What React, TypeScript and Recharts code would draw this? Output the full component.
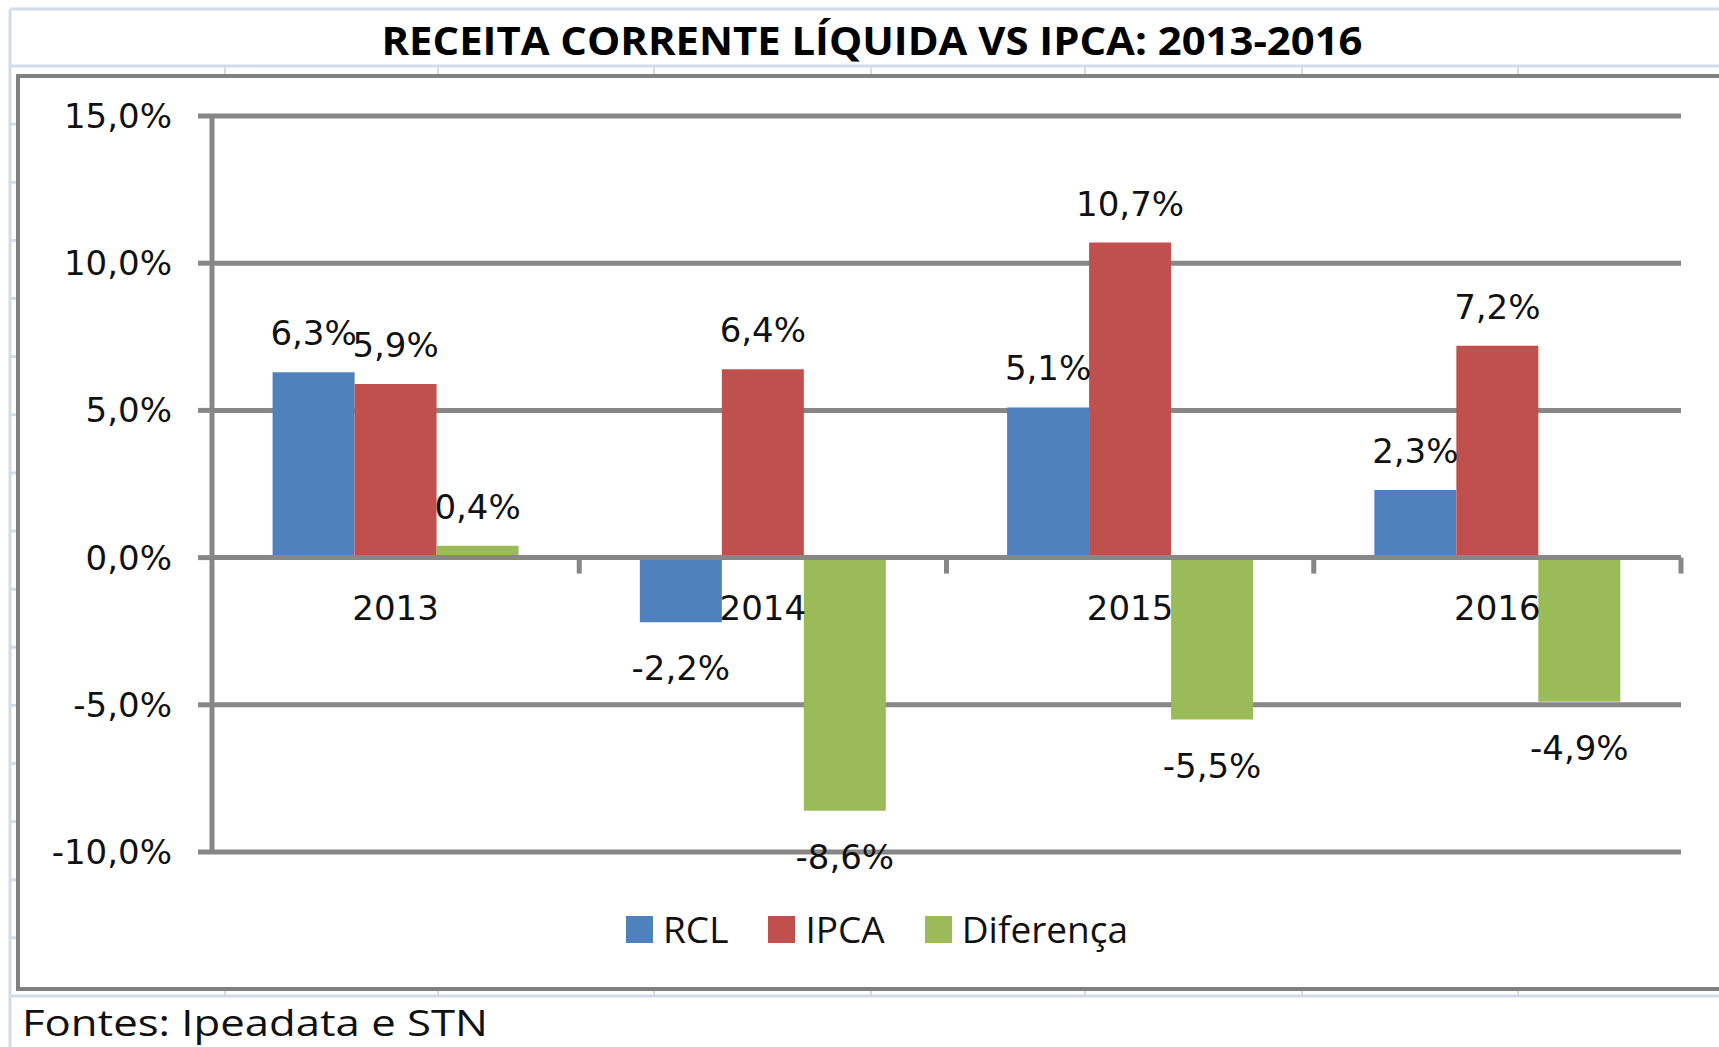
import {
  BarChart,
  Bar,
  XAxis,
  YAxis,
  CartesianGrid,
  Legend,
  LabelList,
  ReferenceLine,
} from "recharts";

const years = ["2013", "2014", "2015", "2016"];
const seriesNames = ["RCL", "IPCA", "Diferença"];
const rcl = [6.3, -2.2, 5.1, 2.3];
const ipca = [5.9, 6.4, 10.7, 7.2];
const diferenca = [0.4, -8.6, -5.5, -4.9];
const yTicks = [-10, -5, 0, 5, 10, 15];

const data = years.map((year, i) => ({
  year,
  RCL: rcl[i],
  IPCA: ipca[i],
  Diferença: diferenca[i],
}));

const W = 1719;
const H = 1047;
const PLOT_TOP = 116;
const PLOT_BOTTOM = 852;
const PLOT_LEFT = 212;
const PLOT_RIGHT = 1681;
const Y_MIN = -10;
const Y_MAX = 15;
const zeroY = PLOT_TOP + (Y_MAX / (Y_MAX - Y_MIN)) * (PLOT_BOTTOM - PLOT_TOP);
const bandW = (PLOT_RIGHT - PLOT_LEFT) / years.length;

const GRID = "#878787";
const SHEET = "#D3DBE9";
const TEXT = "#111";
const NUM_FONT = "'DejaVu Sans', Verdana, sans-serif";
const SANS = "'Open Sans', sans-serif";

const fmt = (v: number) => `${v.toFixed(1).replace(".", ",")}%`;

const XTick = ({ x, payload }: any) => (
  <g>
    <text
      x={x}
      y={zeroY + 62}
      textAnchor="middle"
      fontFamily={NUM_FONT}
      fontSize={34}
      fill={TEXT}
    >
      {payload.value}
    </text>
    <line
      x1={x + bandW / 2}
      y1={zeroY}
      x2={x + bandW / 2}
      y2={zeroY + 16}
      stroke={GRID}
      strokeWidth={5}
    />
  </g>
);

const renderLabel = (props: any) => {
  const vb = props.viewBox || {};
  const x = Number(props.x ?? vb.x);
  const y = Number(props.y ?? vb.y);
  const w = Number(props.width ?? vb.width);
  const h = Number(props.height ?? vb.height);
  const value = Number(props.value);
  const top = Math.min(y, y + h);
  const bottom = Math.max(y, y + h);
  const ty = value >= 0 ? top - 27 : bottom + 58;
  return (
    <text
      x={x + w / 2}
      y={ty}
      textAnchor="middle"
      fontFamily={NUM_FONT}
      fontSize={34}
      fill={TEXT}
    >
      {fmt(value)}
    </text>
  );
};

const renderLegend = ({ payload }: any) => {
  const items = [...(payload || [])].sort(
    (a: any, b: any) => seriesNames.indexOf(a.value) - seriesNames.indexOf(b.value)
  );
  return (
    <div
      style={{
        display: "flex",
        alignItems: "center",
        fontFamily: SANS,
        fontSize: 37,
        color: TEXT,
        lineHeight: "32px",
        whiteSpace: "nowrap",
      }}
    >
      {items.map((p: any) => (
        <div
          key={p.value}
          style={{ display: "flex", alignItems: "center", marginRight: 40 }}
        >
          <span
            style={{
              width: 27,
              height: 27,
              background: p.color,
              marginRight: 10,
              display: "inline-block",
            }}
          />
          <span>{p.value}</span>
        </div>
      ))}
    </div>
  );
};

const rows = Array.from({ length: 17 }, (_, r) => 66 + r * 58.125);
const cols = [225, 438, 654, 871, 1085, 1302, 1518];

export default function App() {
  return (
    <div
      style={{
        position: "absolute",
        left: 0,
        top: 0,
        width: W,
        height: H,
        background: "#fff",
        overflow: "hidden",
      }}
    >
      <svg
        width={W}
        height={H}
        style={{ position: "absolute", left: 0, top: 0 }}
      >
        <rect width={W} height={H} fill="#fff" />
        <line x1={10} y1={9} x2={W} y2={9} stroke={SHEET} strokeWidth={3} />
        <line x1={10} y1={9} x2={10} y2={H} stroke={SHEET} strokeWidth={3} />
        {rows.map((y, i) => (
          <line
            key={i}
            x1={10}
            y1={y}
            x2={i === 0 || i === rows.length - 1 ? W : 20}
            y2={y}
            stroke={SHEET}
            strokeWidth={3}
          />
        ))}
        {cols.map((x) => (
          <g key={x}>
            <line x1={x} y1={66} x2={x} y2={78} stroke={SHEET} strokeWidth={2} />
            <line x1={x} y1={987} x2={x} y2={996} stroke={SHEET} strokeWidth={2} />
          </g>
        ))}
        <rect
          x={18}
          y={76}
          width={1800}
          height={913}
          fill="#fff"
          stroke="#808080"
          strokeWidth={4}
        />
        <text
          x={872}
          y={55}
          textAnchor="middle"
          fontFamily={SANS}
          fontWeight={700}
          fontSize={40}
          fill="#000"
          textLength={981}
          lengthAdjust="spacingAndGlyphs"
        >
          RECEITA CORRENTE LÍQUIDA VS IPCA: 2013-2016
        </text>
        <text
          x={22}
          y={1036}
          fontFamily={SANS}
          fontSize={37}
          fill={TEXT}
          textLength={466}
          lengthAdjust="spacingAndGlyphs"
        >
          Fontes: Ipeadata e STN
        </text>
      </svg>
      <div style={{ position: "absolute", left: 0, top: 0 }}>
        <BarChart
          width={W}
          height={H}
          data={data}
          margin={{ top: PLOT_TOP, right: W - PLOT_RIGHT, bottom: H - PLOT_BOTTOM - 30, left: 0 }}
          barCategoryGap="16.5%"
          barGap={0}
        >
          <CartesianGrid vertical={false} stroke={GRID} strokeWidth={5} />
          <XAxis
            dataKey="year"
            height={30}
            axisLine={false}
            tickLine={false}
            tick={<XTick />}
            interval={0}
          />
          <YAxis
            domain={[Y_MIN, Y_MAX]}
            ticks={yTicks}
            interval={0}
            width={PLOT_LEFT}
            tickSize={14}
            tickMargin={26}
            axisLine={{ stroke: GRID, strokeWidth: 5 }}
            tickLine={{ stroke: GRID, strokeWidth: 5 }}
            tick={{ fontFamily: NUM_FONT, fontSize: 34, fill: TEXT }}
            tickFormatter={fmt}
            allowDataOverflow
          />
          <Legend
            layout="horizontal"
            verticalAlign="middle"
            align="center"
            wrapperStyle={{ left: 626, top: 913, width: "auto", height: "auto" }}
            content={renderLegend}
          />
          <Bar dataKey="RCL" fill="#4F81BD" isAnimationActive={false}>
            <LabelList dataKey="RCL" content={renderLabel} />
          </Bar>
          <Bar dataKey="IPCA" fill="#C0504D" isAnimationActive={false}>
            <LabelList dataKey="IPCA" content={renderLabel} />
          </Bar>
          <Bar dataKey="Diferença" fill="#9BBB59" isAnimationActive={false}>
            <LabelList dataKey="Diferença" content={renderLabel} />
          </Bar>
          <ReferenceLine y={0} stroke={GRID} strokeWidth={5} />
        </BarChart>
      </div>
    </div>
  );
}
